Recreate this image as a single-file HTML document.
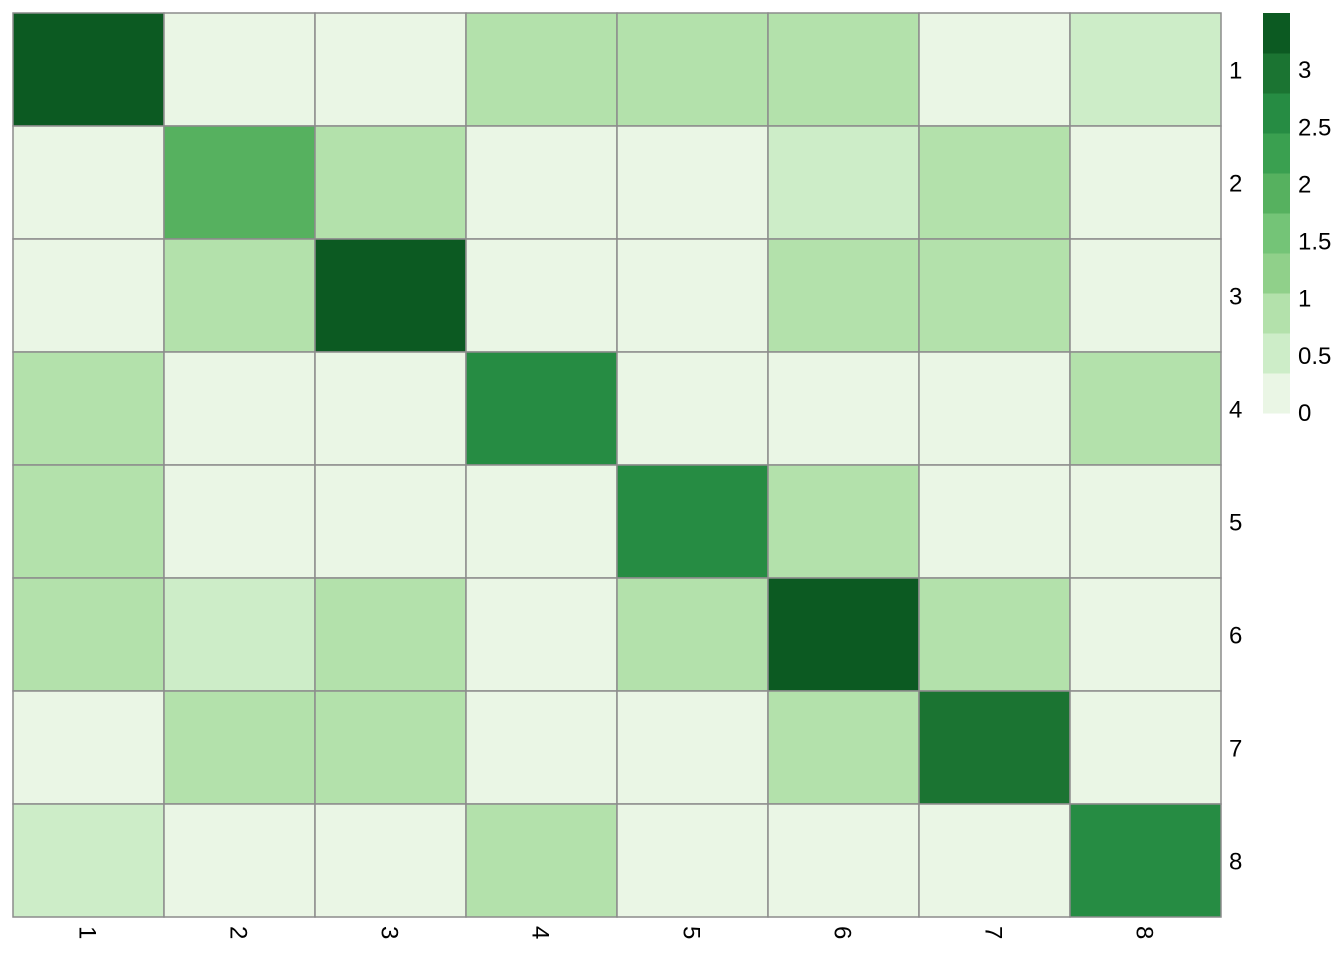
<!DOCTYPE html>
<html><head><meta charset="utf-8"><style>
html,body{margin:0;padding:0;background:#fff;}
svg text{font-family:"Liberation Sans",sans-serif;font-size:24px;fill:#000;}
</style></head><body>
<svg id="chart" width="1344" height="960"></svg>
<script>
const rowLabels=["1","2","3","4","5","6","7","8"];
const colLabels=["1","2","3","4","5","6","7","8"];
const values=[
[3.4,0,0,1,1,1,0,0.5],
[0,1.9,1,0,0,0.5,1,0],
[0,1,3.4,0,0,1,1,0],
[1,0,0,2.6,0,0,0,1],
[1,0,0,0,2.6,1,0,0],
[1,0.5,1,0,1,3.4,1,0],
[0,1,1,0,0,1,3,0],
[0.5,0,0,1,0,0,0,2.6]];
const legendTicks=[0,0.5,1,1.5,2,2.5,3];
const palette=["#EAF6E5","#CDEDC8","#B3E1AB","#90D08A","#74C477","#56B15F","#3AA050","#268C43","#1B7432","#0C5A22"];
const vmin=0,vmax=3.5;
const NS="http://www.w3.org/2000/svg";
const svg=document.getElementById('chart');
const x0=13,y0=13,cw=151,ch=113;
function xs(j){return x0+j*cw;}
function ys(i){return y0+i*ch;}
function color(v){let k=Math.floor((v-vmin)/(vmax-vmin)*palette.length);k=Math.max(0,Math.min(palette.length-1,k));return palette[k];}
function mk(t,a){const e=document.createElementNS(NS,t);for(const k in a)e.setAttribute(k,a[k]);svg.appendChild(e);return e;}
values.forEach((row,i)=>row.forEach((v,j)=>{
 const r=mk('rect',{x:xs(j),y:ys(i),width:cw,height:ch,fill:color(v),stroke:'#8c8c8c','stroke-width':1.5});
 
 
}));
rowLabels.forEach((l,i)=>{
 const t=mk('text',{x:1229,y:ys(i)+ch/2+9});t.textContent=l;
 
 
});
colLabels.forEach((l,j)=>{
 const cx=xs(j)+cw/2;
 const t=mk('text',{x:0,y:0,transform:'translate('+(cx-9)+',926) rotate(90)'});t.textContent=l;
 
 
});
const lx=1263,lw=27,ly0=413,lh=400;
function ly(v){return ly0-(v-vmin)/(vmax-vmin)*lh;}
palette.forEach((c,k)=>{
 const a=vmin+k*(vmax-vmin)/palette.length,b=vmin+(k+1)*(vmax-vmin)/palette.length;
 const r=mk('rect',{x:lx,y:ly(b),width:lw,height:ly(a)-ly(b)+0.5,fill:c});
 
 
});
legendTicks.forEach(v=>{
 const t=mk('text',{x:1298,y:ly(v)+8});t.textContent=String(v);
 
 
});
</script>
</body></html>
